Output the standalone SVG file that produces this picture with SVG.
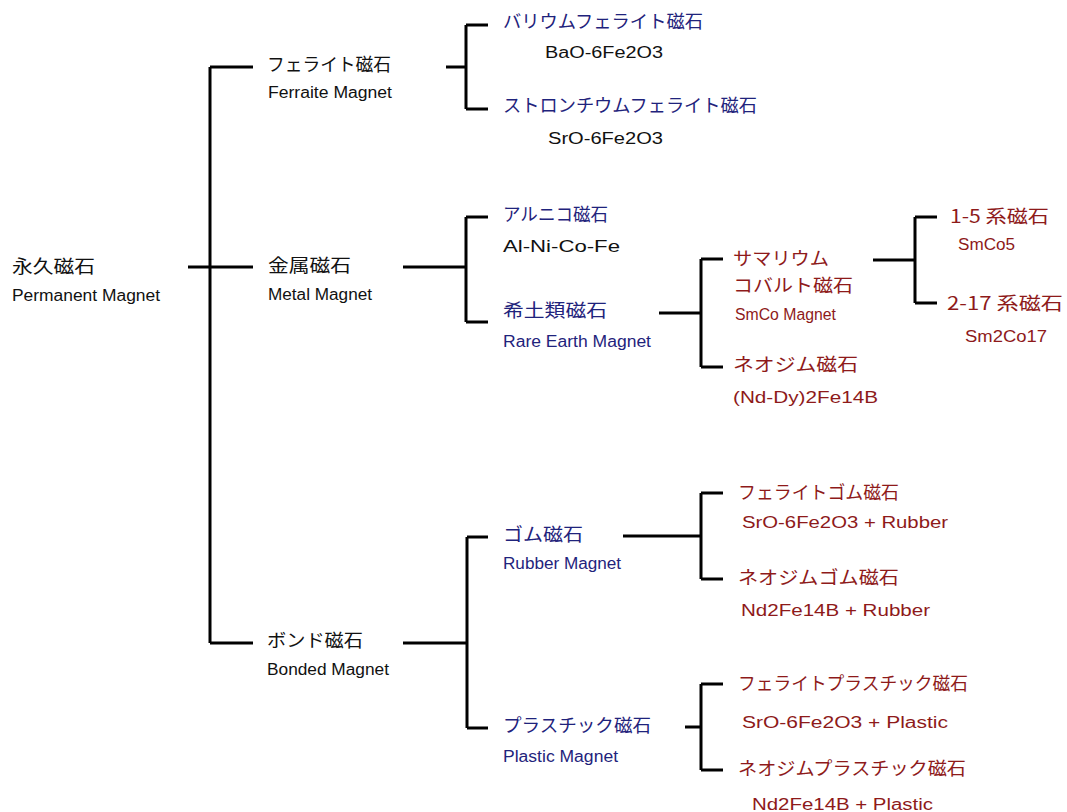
<svg xmlns="http://www.w3.org/2000/svg" width="1067" height="812" viewBox="0 0 1067 812">
<style>
.j{font-family:"Noto Sans CJK JP","Liberation Sans",sans-serif;font-size:18px}
.e{font-family:"Liberation Sans","Noto Sans CJK JP",sans-serif;font-size:16px}
.k{fill:#111}
.b{fill:#1f237c}
.r{fill:#8e1a1a}
.ln{stroke:#000;stroke-width:3;fill:none;stroke-linecap:butt}
</style>
<rect width="1067" height="812" fill="#fff"/>
<g id="connectors" class="ln">
<path d="M188 267H253M210 67V643M210 67H253M210 643H253"/>
<path d="M446 67H466M466 25V109M466 25H488M466 109H488"/>
<path d="M403 267H466M466 217V322M466 217H488M466 322H488"/>
<path d="M659 313H701M701 259V367M701 259H723M701 367H723"/>
<path d="M873 260H915M915 217V303M915 217H937M915 303H937"/>
<path d="M403 643H467M467 537V728M467 537H488M467 728H488"/>
<path d="M623 536H701M701 493V579M701 493H723M701 579H723"/>
<path d="M685 727H701M701 684V770M701 684H723M701 770H723"/>
</g>
<g id="permanent">
<text class="j k" x="12" y="273" textLength="83" lengthAdjust="spacingAndGlyphs">永久磁石</text>
<text class="e k" x="12" y="301" textLength="148" lengthAdjust="spacingAndGlyphs">Permanent Magnet</text>
</g>
<g id="ferrite">
<text class="j k" x="267" y="71" textLength="124" lengthAdjust="spacingAndGlyphs">フェライト磁石</text>
<text class="e k" x="268" y="98" textLength="124" lengthAdjust="spacingAndGlyphs">Ferraite Magnet</text>
</g>
<g id="metal">
<text class="j k" x="268" y="272" textLength="83" lengthAdjust="spacingAndGlyphs">金属磁石</text>
<text class="e k" x="268" y="300" textLength="104" lengthAdjust="spacingAndGlyphs">Metal Magnet</text>
</g>
<g id="bonded">
<text class="j k" x="267" y="647" textLength="96" lengthAdjust="spacingAndGlyphs">ボンド磁石</text>
<text class="e k" x="267" y="675" textLength="122" lengthAdjust="spacingAndGlyphs">Bonded Magnet</text>
</g>
<g id="barium">
<text class="j b" x="503" y="28" textLength="200" lengthAdjust="spacingAndGlyphs">バリウムフェライト磁石</text>
<text class="e k" x="545" y="58" textLength="118" lengthAdjust="spacingAndGlyphs">BaO-6Fe2O3</text>
</g>
<g id="strontium">
<text class="j b" x="503" y="112" textLength="254" lengthAdjust="spacingAndGlyphs">ストロンチウムフェライト磁石</text>
<text class="e k" x="548" y="144" textLength="115" lengthAdjust="spacingAndGlyphs">SrO-6Fe2O3</text>
</g>
<g id="alnico">
<text class="j b" x="503" y="221" textLength="105" lengthAdjust="spacingAndGlyphs">アルニコ磁石</text>
<text class="e k" x="503" y="252" textLength="117" lengthAdjust="spacingAndGlyphs">Al-Ni-Co-Fe</text>
</g>
<g id="rare-earth">
<text class="j b" x="503" y="317" textLength="104" lengthAdjust="spacingAndGlyphs">希土類磁石</text>
<text class="e b" x="503" y="347" textLength="148" lengthAdjust="spacingAndGlyphs">Rare Earth Magnet</text>
</g>
<g id="smco">
<text class="j r" x="733" y="265" textLength="96" lengthAdjust="spacingAndGlyphs">サマリウム</text>
<text class="j r" x="733" y="292" textLength="120" lengthAdjust="spacingAndGlyphs">コバルト磁石</text>
<text class="e r" x="735" y="320" textLength="101" lengthAdjust="spacingAndGlyphs">SmCo Magnet</text>
</g>
<g id="neodymium">
<text class="j r" x="733" y="371" textLength="125" lengthAdjust="spacingAndGlyphs">ネオジム磁石</text>
<text class="e r" x="733" y="403" textLength="145" lengthAdjust="spacingAndGlyphs">(Nd-Dy)2Fe14B</text>
</g>
<g id="smco-1-5">
<text class="j r" x="950" y="223" textLength="99" lengthAdjust="spacingAndGlyphs">1-5 系磁石</text>
<text class="e r" x="958" y="250" textLength="57" lengthAdjust="spacingAndGlyphs">SmCo5</text>
</g>
<g id="smco-2-17">
<text class="j r" x="947" y="310" textLength="116" lengthAdjust="spacingAndGlyphs">2-17 系磁石</text>
<text class="e r" x="965" y="342" textLength="82" lengthAdjust="spacingAndGlyphs">Sm2Co17</text>
</g>
<g id="rubber">
<text class="j b" x="503" y="541" textLength="80" lengthAdjust="spacingAndGlyphs">ゴム磁石</text>
<text class="e b" x="503" y="569" textLength="118" lengthAdjust="spacingAndGlyphs">Rubber Magnet</text>
</g>
<g id="plastic">
<text class="j b" x="503" y="732" textLength="148" lengthAdjust="spacingAndGlyphs">プラスチック磁石</text>
<text class="e b" x="503" y="762" textLength="115" lengthAdjust="spacingAndGlyphs">Plastic Magnet</text>
</g>
<g id="ferrite-rubber">
<text class="j r" x="738" y="499" textLength="161" lengthAdjust="spacingAndGlyphs">フェライトゴム磁石</text>
<text class="e r" x="742" y="528" textLength="206" lengthAdjust="spacingAndGlyphs">SrO-6Fe2O3 + Rubber</text>
</g>
<g id="neodymium-rubber">
<text class="j r" x="738" y="584" textLength="161" lengthAdjust="spacingAndGlyphs">ネオジムゴム磁石</text>
<text class="e r" x="741" y="616" textLength="189" lengthAdjust="spacingAndGlyphs">Nd2Fe14B + Rubber</text>
</g>
<g id="ferrite-plastic">
<text class="j r" x="738" y="690" textLength="230" lengthAdjust="spacingAndGlyphs">フェライトプラスチック磁石</text>
<text class="e r" x="742" y="728" textLength="206" lengthAdjust="spacingAndGlyphs">SrO-6Fe2O3 + Plastic</text>
</g>
<g id="neodymium-plastic">
<text class="j r" x="738" y="775" textLength="228" lengthAdjust="spacingAndGlyphs">ネオジムプラスチック磁石</text>
<text class="e r" x="752" y="810" textLength="181" lengthAdjust="spacingAndGlyphs">Nd2Fe14B + Plastic</text>
</g>
</svg>
